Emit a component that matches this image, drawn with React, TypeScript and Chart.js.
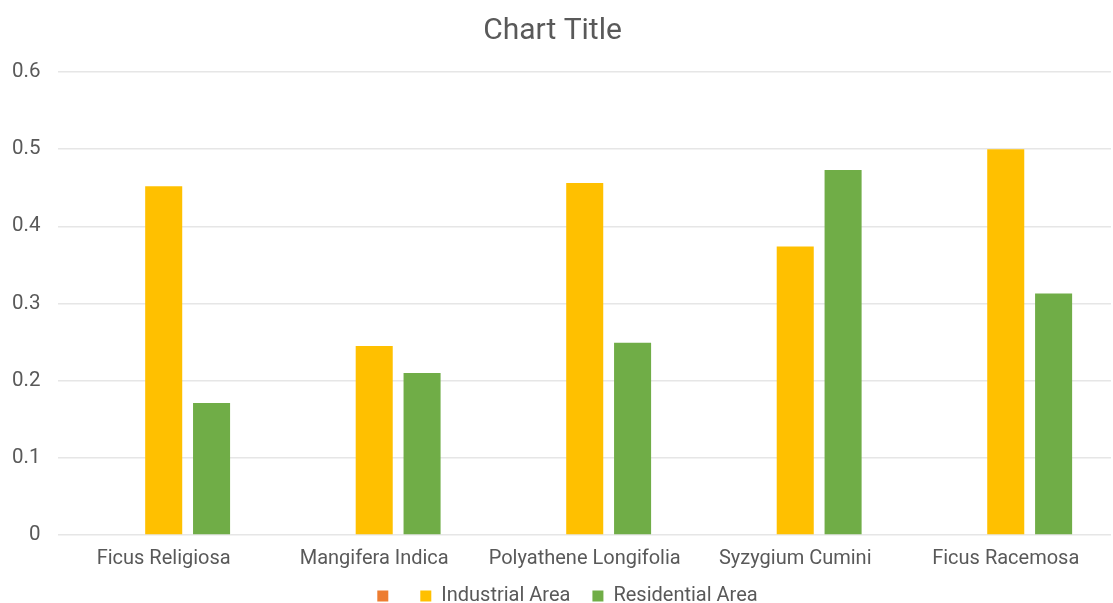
import React, { useEffect, useRef } from "react";
import { Chart, registerables } from "chart.js";

Chart.register(...registerables);

const categories = [
  "Ficus Religiosa",
  "Mangifera Indica",
  "Polyathene Longifolia",
  "Syzygium Cumini",
  "Ficus Racemosa",
];
const seriesBlankLabel = "";
const seriesBlank = [0, 0, 0, 0, 0];
const industrialArea = [0.452, 0.245, 0.456, 0.374, 0.5];
const residentialArea = [0.171, 0.21, 0.249, 0.473, 0.313];
const yTicks = [0, 0.1, 0.2, 0.3, 0.4, 0.5, 0.6];

const LEGEND_CENTER_Y = 596;
const LEGEND_SHIFT_X = 15;

const legendPlacer = {
  id: "legendPlacer",
  afterLayout(chart: any) {
    const lg = chart.legend;
    if (!lg) return;
    const pad = lg.options.labels.padding;
    const fs = lg.options.labels.font.size;
    const top = LEGEND_CENTER_Y - pad - fs / 2;
    const h = lg.bottom - lg.top;
    lg.top = top;
    lg.bottom = top + h;
    lg.left += LEGEND_SHIFT_X;
    lg.right += LEGEND_SHIFT_X;
  },
};

export default function App() {
  const ref = useRef<HTMLCanvasElement | null>(null);
  useEffect(() => {
    if (!ref.current) return;
    const font = "Roboto";
    const chart = new Chart(ref.current, {
      type: "bar",
      data: {
        labels: categories,
        datasets: [
          { label: seriesBlankLabel, data: seriesBlank, backgroundColor: "#ED7D31" },
          { label: "Industrial Area", data: industrialArea, backgroundColor: "#FFC000" },
          { label: "Residential Area", data: residentialArea, backgroundColor: "#70AD47" },
        ],
      },
      plugins: [legendPlacer],
      options: {
        animation: false,
        responsive: true,
        maintainAspectRatio: false,
        layout: { padding: { left: -6, right: 2, top: 10, bottom: -24 } },
        datasets: { bar: { categoryPercentage: 0.682, barPercentage: 0.774 } },
        plugins: {
          title: {
            display: true,
            text: "Chart Title",
            color: "#595959",
            font: { family: font, size: 30, weight: "normal" },
            padding: { top: 3, bottom: 23 },
          },
          legend: {
            position: "bottom",
            labels: {
              color: "#595959",
              font: { family: font, size: 20 },
              boxWidth: 11,
              boxHeight: 11,
              padding: 22,
            },
          },
          tooltip: { enabled: false },
        },
        scales: {
          x: {
            grid: { display: false },
            border: { display: false },
            ticks: { color: "#595959", font: { family: font, size: 20 }, padding: 4 },
          },
          y: {
            min: 0,
            max: 0.6,
            afterBuildTicks: (axis: any) => {
              axis.ticks = yTicks.map((v) => ({ value: v }));
            },
            grid: { color: "#E6E6E6", drawTicks: false, lineWidth: 1.5 },
            border: { display: false },
            ticks: {
              color: "#595959",
              font: { family: font, size: 20.5 },
              padding: 18,
              callback: (v: any) => String(Math.round(Number(v) * 10) / 10),
            },
          },
        },
      },
    });
    return () => chart.destroy();
  }, []);
  return (
    <div style={{ position: "fixed", left: 0, top: 0, width: 1113, height: 603, background: "#fff" }}>
      <canvas ref={ref} />
    </div>
  );
}
